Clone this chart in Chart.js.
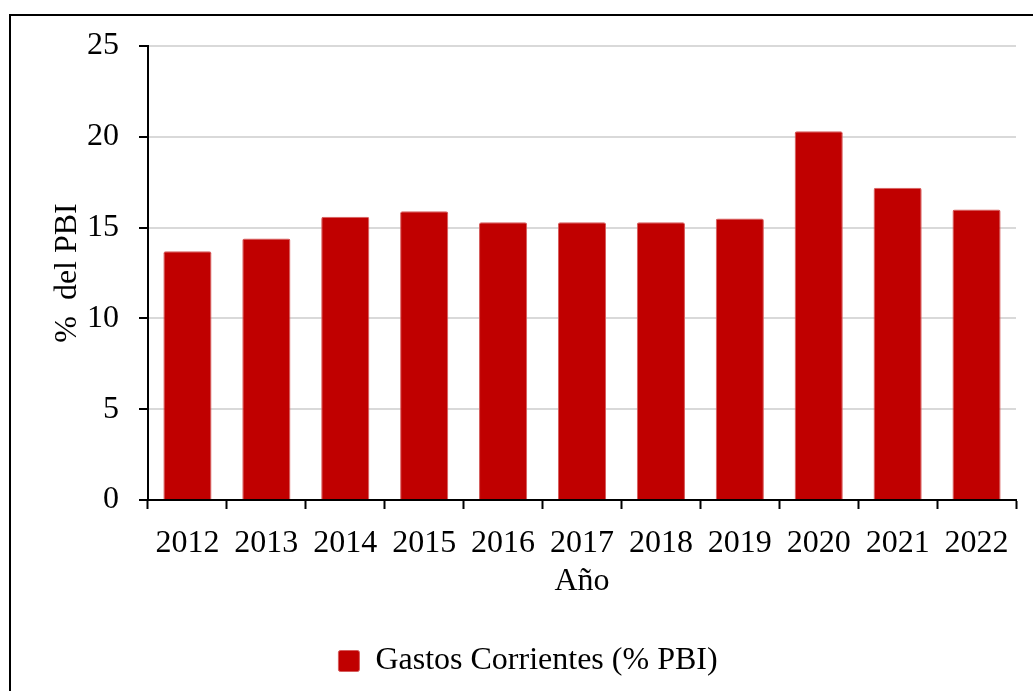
<!DOCTYPE html>
<html>
<head>
<meta charset="utf-8">
<script src="https://cdn.jsdelivr.net/npm/chart.js@4.4.1/dist/chart.umd.min.js"></script>
<style>
    html, body { margin: 0; padding: 0; background: #fff; overflow: hidden; }
    #wrap { position: relative; width: 1033px; height: 691px; }
    #frame {
        position: absolute; left: 9px; top: 14px; width: 1100px; height: 800px;
        border: 2px solid #000; pointer-events: none;
    }
</style>
</head>
<body>
<div id="wrap">
    <canvas id="gastosChart" width="1033" height="691"></canvas>
    <div id="frame"></div>
</div>
<script>
const years = ['2012', '2013', '2014', '2015', '2016', '2017', '2018', '2019', '2020', '2021', '2022'];
const gastosCorrientes = [13.7, 14.4, 15.6, 15.9, 15.3, 15.3, 15.3, 15.5, 20.3, 17.2, 16.0];
const yTicks = [0, 5, 10, 15, 20, 25];

const serif = '"Liberation Serif", "Times New Roman", serif';
const barRed = '#c00000';

const ctx = document.getElementById('gastosChart').getContext('2d');
new Chart(ctx, {
    type: 'bar',
    data: {
        labels: years,
        datasets: [{
            label: 'Gastos Corrientes (% PBI)',
            data: gastosCorrientes,
            backgroundColor: barRed,
            borderColor: '#d65c5c',
            borderWidth: 1,
            borderRadius: 2,
            borderSkipped: 'bottom',
            barPercentage: 0.61,
            categoryPercentage: 1.0
        }]
    },
    options: {
        responsive: false,
        animation: false,
        layout: {
            padding: { left: 40, top: 46, right: 17, bottom: 4 }
        },
        scales: {
            x: {
                grid: {
                    display: true,
                    offset: true,
                    drawOnChartArea: false,
                    tickLength: 9,
                    tickColor: '#000',
                    tickWidth: 2
                },
                border: { color: '#000', width: 2 },
                ticks: {
                    color: '#000',
                    font: { family: serif, size: 32 },
                    maxRotation: 0,
                    padding: 15
                },
                title: {
                    display: true,
                    text: 'Año',
                    color: '#000',
                    font: { family: serif, size: 32 },
                    padding: { top: 0, bottom: 29 }
                },
                afterFit: scale => { scale.height = 130; }
            },
            y: {
                min: 0,
                max: 25,
                afterBuildTicks: scale => {
                    scale.ticks = yTicks.map(v => ({ value: v }));
                },
                grid: {
                    color: '#d9d9d9',
                    lineWidth: 2,
                    tickLength: 9,
                    tickColor: '#000',
                    tickWidth: 2
                },
                border: { color: '#000', width: 2 },
                ticks: {
                    color: '#000',
                    font: { family: serif, size: 32 },
                    padding: 20
                },
                title: {
                    display: true,
                    text: '%  del PBI',
                    color: '#000',
                    font: { family: serif, size: 32 },
                    padding: { top: 8, bottom: 0 }
                },
                afterFit: scale => { scale.width = 108; }
            }
        },
        plugins: {
            legend: {
                display: true,
                position: 'bottom',
                labels: {
                    color: '#000',
                    font: { family: serif, size: 32 },
                    boxWidth: 21,
                    boxHeight: 21,
                    padding: 15,
                    useBorderRadius: true,
                    borderRadius: 2
                }
            },
            tooltip: { enabled: false }
        }
    },
    plugins: [{
        id: 'whiteBg',
        beforeDraw: chart => {
            const c = chart.ctx;
            c.save();
            c.fillStyle = '#fff';
            c.fillRect(0, 0, chart.width, chart.height);
            c.restore();
        }
    }]
});
</script>
</body>
</html>
